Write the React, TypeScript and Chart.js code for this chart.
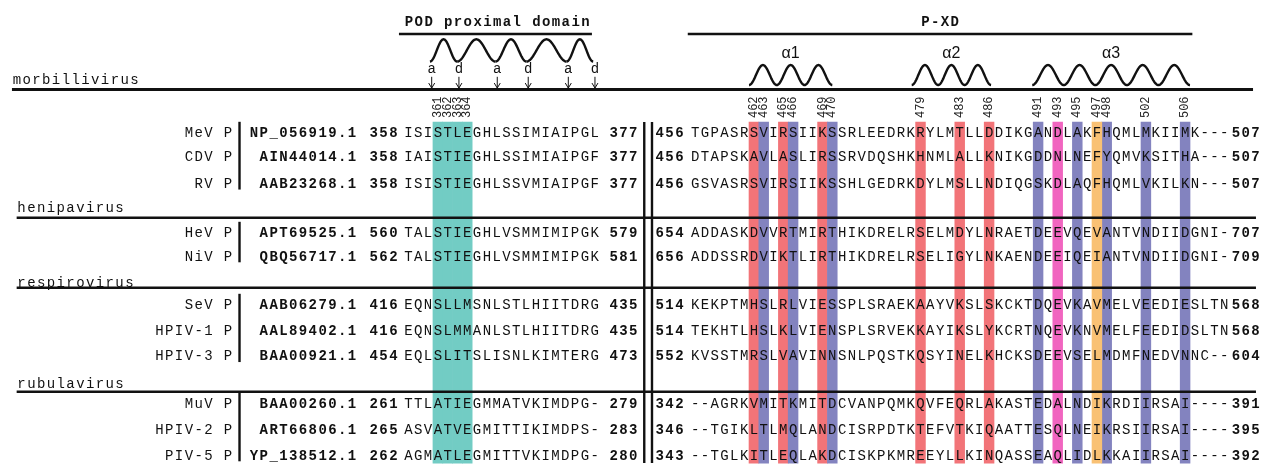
import React, { useEffect, useRef } from 'react';
import { Chart, registerables } from 'chart.js';

Chart.register(...registerables);

// ---------------- data ----------------
const virusNames = ['MeV P', 'CDV P', 'RV P', 'HeV P', 'NiV P', 'SeV P', 'HPIV-1 P', 'HPIV-3 P', 'MuV P', 'HPIV-2 P', 'PIV-5 P'];
const accessions = ['NP_056919.1', 'AIN44014.1', 'AAB23268.1', 'APT69525.1', 'QBQ56717.1', 'AAB06279.1', 'AAL89402.1', 'BAA00921.1', 'BAA00260.1', 'ART66806.1', 'YP_138512.1'];
const podStart = [358, 358, 358, 560, 562, 416, 416, 454, 261, 265, 262];
const podEnd = [377, 377, 377, 579, 581, 435, 435, 473, 279, 283, 280];
const podSeqs = [
  'ISISTLEGHLSSIMIAIPGL',
  'IAISTIEGHLSSIMIAIPGF',
  'ISISTIEGHLSSVMIAIPGF',
  'TALSTIEGHLVSMMIMIPGK',
  'TALSTIEGHLVSMMIMIPGK',
  'EQNSLLMSNLSTLHIITDRG',
  'EQNSLMMANLSTLHIITDRG',
  'EQLSLITSLISNLKIMTERG',
  'TTLATIEGMMATVKIMDPG-',
  'ASVATVEGMITTIKIMDPS-',
  'AGMATLEGMITTVKIMDPG-',
];
const xdStart = [456, 456, 456, 654, 656, 514, 514, 552, 342, 346, 343];
const xdEnd = [507, 507, 507, 707, 709, 568, 568, 604, 391, 395, 392];
const xdSeqs = [
  'TGPASRSVIRSIIKSSRLEEDRKRYLMTLLDDIKGANDLAKFHQMLMKIIMK---',
  'DTAPSKAVLASLIRSSRVDQSHKHNMLALLKNIKGDDNLNEFYQMVKSITHA---',
  'GSVASRSVIRSIIKSSHLGEDRKDYLMSLLNDIQGSKDLAQFHQMLVKILKN---',
  'ADDASKDVVRTMIRTHIKDRELRSELMDYLNRAETDEEVQEVANTVNDIIDGNI-',
  'ADDSSRDVIKTLIRTHIKDRELRSELIGYLNKAENDEEIQEIANTVNDIIDGNI-',
  'KEKPTMHSLRLVIESSPLSRAEKAAYVKSLSKCKTDQEVKAVMELVEEDIESLTN',
  'TEKHTLHSLKLVIENSPLSRVEKKAYIKSLYKCRTNQEVKNVMELFEEDIDSLTN',
  'KVSSTMRSLVAVINNSNLPQSTKQSYINELKHCKSDEEVSELMDMFNEDVNNC--',
  '--AGRKVMITKMITDCVANPQMKQVFEQRLAKASTEDALNDIKRDIIRSAI----',
  '--TGIKLTLMQLANDCISRPDTKTEFVTKIQAATTESQLNEIKRSIIRSAI----',
  '--TGLKITLEQLAKDCISKPKMREEYLLKINQASSEAQLIDLKKAIIRSAI----',
];
const groupNames = ['morbillivirus', 'henipavirus', 'respirovirus', 'rubulavirus'];
const groupFirstRow = [0, 3, 5, 8];
const groupLastRow = [2, 4, 7, 10];

// highlighted residues (MeV numbering)
const podSites = [361, 362, 363, 364];
const redSites = [462, 465, 469, 479, 483, 486];
const blueSites = [463, 466, 470, 491, 495, 498, 502, 506];
const pinkSites = [493];
const orangeSites = [497];

// heptad a/d positions of the POD coiled coil (MeV numbering, schematic)
const heptadLetters = ['a', 'd', 'a', 'd', 'a', 'd'];
const heptadPos = [360.87, 363.65, 367.56, 370.72, 374.81, 377.53];

// P-XD helices (MeV numbering)
const helixNames = ['α1', 'α2', 'α3'];
const helixFrom = [462, 478.6, 490.9];
const helixTo = [470.5, 486.7, 507.0];
const helixHumps = [3, 3, 5];

// ---------------- layout ----------------
const WIDTH = 1263;
const HEIGHT = 466;
const CELL = 9.8; // px per residue column
const SLOT = 25; // px per row slot
const X_MIN = -41.18;
const X_MAX = X_MIN + WIDTH / CELL;
const Y_MIN = -5.292;
const Y_MAX = Y_MIN + HEIGHT / SLOT;
const POD_REF = 358; // residue at left block col 0
const XD_REF = 456; // residue at right block col 0
const XD_COL0 = 29.25;
const ROW_SLOT = [0, 0.98, 2.04, 4.0, 4.95, 6.88, 7.91, 8.94, 10.84, 11.88, 12.91];
const GROUP_LABEL_SLOT = [-2.13, 3.01, 5.99, 10.04];
const GROUP_LINE_SLOT = [-1.71, 3.42, 6.22, 10.38];
const GROUP_LEFT_COL = [-39.96, -39.48, -39.48, -39.48];
const GROUP_RIGHT_COL = [86.68, 86.98, 86.98, 86.98];
const BAR_TOP = -0.41;
const BAR_BOTTOM = 13.23;

const COLORS = {
  cyan: '#72ccc4',
  red: '#f27478',
  blue: '#8383bf',
  pink: '#f165c0',
  orange: '#f9c174',
};

const podCol = (r: number) => r - POD_REF;
const xdCol = (r: number) => XD_COL0 + (r - XD_REF);

const highlightData: { x: number; y: number[] }[] = [];
const highlightColors: string[] = [];
podSites.forEach((r) => { highlightData.push({ x: podCol(r) + 0.5, y: [BAR_TOP, BAR_BOTTOM] }); highlightColors.push(COLORS.cyan); });
redSites.forEach((r) => { highlightData.push({ x: xdCol(r) + 0.5, y: [BAR_TOP, BAR_BOTTOM] }); highlightColors.push(COLORS.red); });
blueSites.forEach((r) => { highlightData.push({ x: xdCol(r) + 0.5, y: [BAR_TOP, BAR_BOTTOM] }); highlightColors.push(COLORS.blue); });
pinkSites.forEach((r) => { highlightData.push({ x: xdCol(r) + 0.5, y: [BAR_TOP, BAR_BOTTOM] }); highlightColors.push(COLORS.pink); });
orangeSites.forEach((r) => { highlightData.push({ x: xdCol(r) + 0.5, y: [BAR_TOP, BAR_BOTTOM] }); highlightColors.push(COLORS.orange); });

const MONO = '"Liberation Mono", "Courier New", monospace';
const SANS = '"Liberation Sans", Arial, sans-serif';
const FONT_PX = 14;

const overlay = {
  id: 'alignmentOverlay',
  beforeDraw(chart: any) {
    const ctx = chart.ctx;
    ctx.save();
    ctx.fillStyle = '#ffffff';
    ctx.fillRect(0, 0, chart.width, chart.height);
    ctx.restore();
  },
  afterDatasetsDraw(chart: any) {
    const ctx: CanvasRenderingContext2D = chart.ctx;
    const xs = chart.scales.x;
    const ys = chart.scales.y;
    const X = (c: number) => xs.getPixelForValue(c);
    const Y = (s: number) => ys.getPixelForValue(s);
    const ink = '#111111';

    ctx.save();
    ctx.fillStyle = ink;
    ctx.strokeStyle = ink;

    const cells = (text: string, leftCol: number, slot: number, bold = false, size = FONT_PX) => {
      ctx.font = `${bold ? 'bold ' : ''}${size}px ${MONO}`;
      ctx.textAlign = 'center';
      ctx.textBaseline = 'alphabetic';
      const by = Y(slot) + size * 0.33;
      for (let i = 0; i < text.length; i++) {
        ctx.fillText(text[i], X(leftCol + i + 0.5), by);
      }
    };
    const cellsRight = (text: string, rightCol: number, slot: number, bold = false) =>
      cells(text, rightCol - text.length, slot, bold);
    const cellsCenter = (text: string, centerCol: number, slot: number, bold = false, size = FONT_PX) =>
      cells(text, centerCol - text.length / 2, slot, bold, size);
    const hline = (c0: number, c1: number, slot: number, w: number) => {
      ctx.lineWidth = w;
      ctx.beginPath();
      ctx.moveTo(X(c0), Y(slot));
      ctx.lineTo(X(c1), Y(slot));
      ctx.stroke();
    };
    const vline = (c: number, s0: number, s1: number, w: number) => {
      ctx.lineWidth = w;
      ctx.beginPath();
      ctx.moveTo(X(c), Y(s0));
      ctx.lineTo(X(c), Y(s1));
      ctx.stroke();
    };
    const wave = (c0: number, c1: number, humps: number, baseSlot: number, peakSlot: number) => {
      const x0 = X(c0), x1 = X(c1), yb = Y(baseSlot), yp = Y(peakSlot);
      const steps = 60 * humps;
      ctx.lineWidth = 2.4;
      ctx.lineJoin = 'round';
      ctx.lineCap = 'butt';
      ctx.beginPath();
      for (let k = 0; k <= steps; k++) {
        const t = k / steps;
        const px = x0 + (x1 - x0) * t;
        const py = yb - (yb - yp) * (1 - Math.cos(2 * Math.PI * humps * t)) / 2;
        if (k === 0) ctx.moveTo(px, py); else ctx.lineTo(px, py);
      }
      ctx.stroke();
    };

    // ---- header ----
    const podCenter = (podCol(357.53) + podCol(377.22)) / 2;
    cellsCenter('POD proximal domain', podCenter + 0.18, -4.42, true);
    hline(podCol(357.53), podCol(377.22), -3.93, 2.6);
    cellsCenter('P-XD', (XD_COL0 - 0.25 + xdCol(507.24)) / 2, -4.42, true);
    hline(XD_COL0 - 0.25, xdCol(507.24), -3.93, 2.4);

    // POD coiled-coil wave: one period between consecutive a/d positions
    for (let i = 0; i < heptadPos.length - 1; i++) {
      wave(podCol(heptadPos[i]) - 0.18, podCol(heptadPos[i + 1]) - 0.18, 1, -2.83, -3.72);
    }
    ctx.font = `${FONT_PX}px ${MONO}`;
    ctx.textAlign = 'center';
    ctx.textBaseline = 'alphabetic';
    heptadPos.forEach((r, i) => {
      const px = X(podCol(r));
      ctx.fillText(heptadLetters[i], px, Y(-2.52) + 4);
      ctx.lineWidth = 1;
      ctx.beginPath();
      ctx.moveTo(px, Y(-2.22));
      ctx.lineTo(px, Y(-1.77));
      ctx.stroke();
      ctx.beginPath();
      ctx.moveTo(px - 3, Y(-1.77) - 5);
      ctx.lineTo(px, Y(-1.77));
      ctx.lineTo(px + 3, Y(-1.77) - 5);
      ctx.stroke();
    });

    // helices
    helixNames.forEach((name, i) => {
      const c0 = xdCol(helixFrom[i]);
      const c1 = xdCol(helixTo[i]);
      wave(c0, c1, helixHumps[i], -1.89, -2.69);
      ctx.font = `16px ${SANS}`;
      ctx.textAlign = 'center';
      ctx.textBaseline = 'alphabetic';
      ctx.fillText(name, X((c0 + c1) / 2), Y(-3.21) + 6);
    });

    // residue number labels (rotated)
    const numLabel = (col: number, text: string) => {
      ctx.save();
      ctx.translate(X(col + 0.5), Y(-0.57));
      ctx.rotate(-Math.PI / 2);
      ctx.font = `12px ${MONO}`;
      ctx.textAlign = 'left';
      ctx.textBaseline = 'middle';
      ctx.fillStyle = '#222';
      ctx.fillText(text, 0, 0);
      ctx.restore();
    };
    podSites.forEach((r) => numLabel(podCol(r), String(r)));
    [...redSites, ...blueSites, ...pinkSites, ...orangeSites]
      .sort((a, b) => a - b)
      .forEach((r) => numLabel(xdCol(r), String(r)));

    // ---- group labels / separator lines ----
    groupNames.forEach((g, gi) => {
      cells(g, GROUP_LEFT_COL[gi], GROUP_LABEL_SLOT[gi], false);
      hline(GROUP_LEFT_COL[gi], GROUP_RIGHT_COL[gi], GROUP_LINE_SLOT[gi], gi === 0 ? 3 : 2.4);
      vline(-16.74, ROW_SLOT[groupFirstRow[gi]] - 0.42, ROW_SLOT[groupLastRow[gi]] + 0.25, 2.4);
    });

    // double separator between blocks
    vline(24.56, BAR_TOP, BAR_BOTTOM, 2.4);
    vline(25.35, BAR_TOP, BAR_BOTTOM, 2.4);

    // ---- rows ----
    virusNames.forEach((name, i) => {
      const s = ROW_SLOT[i];
      cellsRight(name, -17.41, s);
      cellsRight(accessions[i], -4.76, s, true);
      cellsRight(String(podStart[i]), -0.54, s, true);
      cells(podSeqs[i], 0, s);
      cells(String(podEnd[i]), 20.93, s, true);
      cellsRight(String(xdStart[i]), XD_COL0 - 0.61, s, true);
      cells(xdSeqs[i], XD_COL0, s);
      cells(String(xdEnd[i]), XD_COL0 + 55.18, s, true);
    });

    ctx.restore();
  },
};

export default function App() {
  const ref = useRef<HTMLCanvasElement | null>(null);
  useEffect(() => {
    const canvas = ref.current;
    if (!canvas) return;
    const chart = new Chart(canvas, {
      type: 'bar',
      data: {
        datasets: [
          {
            label: 'highlighted residues',
            data: highlightData as any,
            backgroundColor: highlightColors,
            borderWidth: 0,
            barPercentage: 1,
            categoryPercentage: 1,
            barThickness: CELL,
          } as any,
        ],
      },
      options: {
        animation: false,
        responsive: false,
        devicePixelRatio: 1,
        events: [],
        layout: { padding: 0 },
        plugins: { legend: { display: false }, tooltip: { enabled: false } },
        scales: {
          x: { type: 'linear', min: X_MIN, max: X_MAX, display: false, offset: false },
          y: { type: 'linear', min: Y_MIN, max: Y_MAX, reverse: true, display: false },
        },
      } as any,
      plugins: [overlay],
    });
    return () => chart.destroy();
  }, []);
  return (
    <div style={{ position: 'fixed', left: 0, top: 0, width: WIDTH, height: HEIGHT, background: '#fff' }}>
      <canvas ref={ref} width={WIDTH} height={HEIGHT} style={{ width: WIDTH, height: HEIGHT, display: 'block' }} />
    </div>
  );
}
